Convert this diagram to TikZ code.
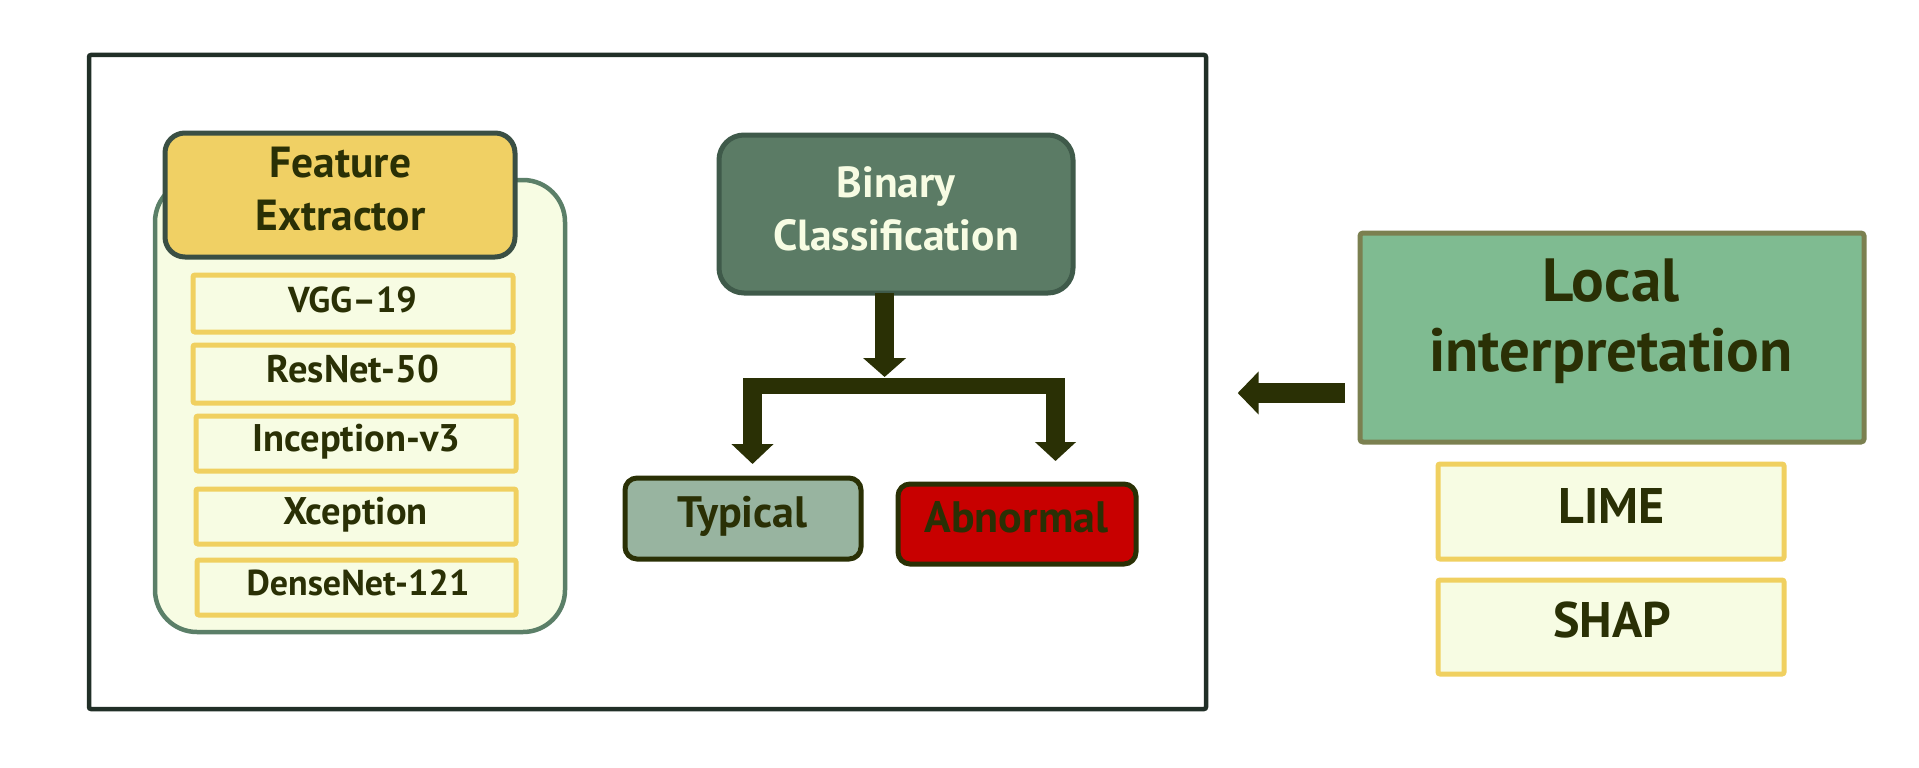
\documentclass[tikz,border=0pt]{standalone}
\usepackage{fontspec}
\setmainfont{PT Sans}
\usetikzlibrary{arrows.meta}

\definecolor{ink}{HTML}{2A3005}
\definecolor{framec}{HTML}{212F27}
\definecolor{paleg}{HTML}{F7FCE3}
\definecolor{contedge}{HTML}{5B7F68}
\definecolor{gold}{HTML}{F0D064}
\definecolor{goldedge}{HTML}{F0D060}
\definecolor{headedge}{HTML}{3A4F44}
\definecolor{binfill}{HTML}{5B7B65}
\definecolor{binedge}{HTML}{3F5A4A}
\definecolor{typfill}{HTML}{98B4A0}
\definecolor{abnfill}{HTML}{C80000}
\definecolor{locfill}{HTML}{7FBB91}
\definecolor{locedge}{HTML}{7B8050}

\tikzset{
  box/.style={rectangle, inner sep=0pt, outer sep=0pt, line width=5pt},
  modelbox/.style={box, draw=goldedge, fill=paleg, rounded corners=2pt, minimum width=320pt},
  txt/.style={inner sep=0pt, outer sep=0pt, text=ink, align=center},
  bigtxt/.style={txt, font=\fontsize{43.5}{53}\selectfont\bfseries},
  smalltxt/.style={txt, font=\fontsize{38.5}{40}\selectfont\bfseries},
  blockarrow/.style={draw=ink, line width=#1},
}

\begin{document}
\begin{tikzpicture}[x=1pt,y=-1pt]
\useasboundingbox (0,0) rectangle (1919,768);

% outer frame
\node[box, draw=framec, fill=white, line width=4.5pt, rounded corners=2pt,
      minimum width=1117pt, minimum height=654pt] (frame) at (647.5,382) {};

% feature extractor group
\node[box, draw=contedge, fill=paleg, line width=4.5pt, rounded corners=42pt,
      minimum width=410pt, minimum height=452pt] (cont) at (360,406) {};
\node[box, draw=headedge, fill=gold, rounded corners=20pt,
      minimum width=350pt, minimum height=124pt] (fe) at (340,195) {};
\node[bigtxt] (fe-t) at (340.5,189) {Feature\\Extractor};

\node[modelbox, minimum height=57pt] (vgg) at (353,303.5) {};
\node[smalltxt, font=\fontsize{36}{40}\selectfont\bfseries] (vgg-t) at (352.5,299.5) {VGG–19};
\node[modelbox, minimum height=58pt] (res) at (353,374) {};
\node[smalltxt] (res-t) at (353,369.5) {ResNet-50};
\node[modelbox, minimum height=55pt] (inc) at (356,443.5) {};
\node[smalltxt] (inc-t) at (356.5,442) {Inception-v3};
\node[modelbox, minimum height=55pt] (xce) at (356,516.5) {};
\node[smalltxt] (xce-t) at (355.5,515) {Xception};
\node[modelbox, minimum width=319pt, minimum height=55pt] (den) at (356.5,587.5) {};
\node[smalltxt, font=\fontsize{36}{40}\selectfont\bfseries] (den-t) at (358,582.5) {DenseNet-121};

% binary classification
\node[box, draw=binedge, fill=binfill, rounded corners=25pt,
      minimum width=354pt, minimum height=158pt] (bin) at (896,214) {};
\node[bigtxt, text=paleg] (bin-t) at (896,209) {Binary\\Classification};

\node[box, draw=ink, fill=typfill, rounded corners=12pt,
      minimum width=236pt, minimum height=81pt] (typ) at (743,518.5) {};
\node[bigtxt, font=\fontsize{44}{53}\selectfont\bfseries] (typ-t) at (742.5,516.5) {Typical};
\node[box, draw=ink, fill=abnfill, rounded corners=12pt,
      minimum width=238pt, minimum height=80pt] (abn) at (1017,524) {};
\node[bigtxt, font=\fontsize{44}{53}\selectfont\bfseries] (abn-t) at (1016.5,517.5) {Abnormal};

% branching connector
\coordinate (split) at (884.6,377);
\coordinate (barL) at (743,386);
\coordinate (barR) at (1064.7,386);
\coordinate (dropL) at (752.5,378);
\coordinate (dropR) at (1055.5,378);
\draw[blockarrow=18.5pt, -{Triangle[width=42pt,length=19pt]}]
  (bin.south -| split) -- (split);
\draw[blockarrow=16.5pt] (barL) -- (barR);
\draw[blockarrow=19pt, -{Triangle[width=41pt,length=20pt]}, shorten >=14pt]
  (dropL) -- (dropL |- typ.north);
\draw[blockarrow=18.5pt, -{Triangle[width=40pt,length=19pt]}, shorten >=23pt]
  (dropR) -- (dropR |- abn.north);

% local interpretation
\node[box, draw=locedge, fill=locfill, rounded corners=3pt,
      minimum width=504pt, minimum height=209pt] (loc) at (1612,337.5) {};
\node[txt, font=\fontsize{61}{70}\selectfont\bfseries] (loc-t) at (1611,321) {Local\\interpretation};

\node[box, draw=goldedge, fill=paleg, rounded corners=2pt,
      minimum width=346pt, minimum height=95pt] (lime) at (1611,511.5) {};
\node[txt, font=\fontsize{50}{50}\selectfont\bfseries] (lime-t) at (1612,506) {LIME};
\node[box, draw=goldedge, fill=paleg, rounded corners=2pt,
      minimum width=346pt, minimum height=94pt] (shap) at (1611,627) {};
\node[txt, font=\fontsize{50}{50}\selectfont\bfseries] (shap-t) at (1612,620) {SHAP};

\coordinate (loctip) at (1237.7,393);
\draw[blockarrow=20pt, -{Triangle[width=42pt,length=21pt]}, shorten <=15.5pt]
  (loc.west |- loctip) -- (loctip);
\end{tikzpicture}
\end{document}
